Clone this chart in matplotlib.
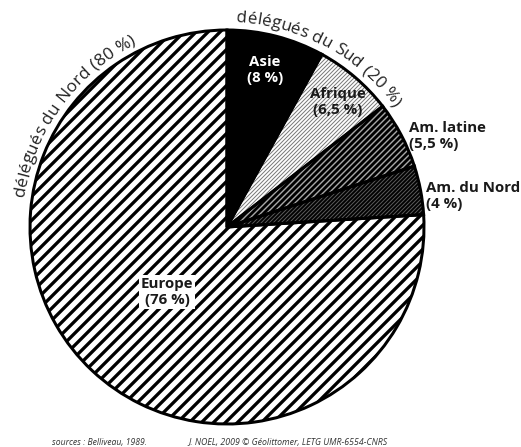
import matplotlib
matplotlib.use('Agg')
import matplotlib.pyplot as plt
import numpy as np
from matplotlib.font_manager import FontProperties, findfont
from matplotlib.ft2font import FT2Font

plt.rcParams['font.family'] = ['Open Sans', 'DejaVu Sans']

# ---- data ----
categories = ['Asie', 'Afrique', 'Am. latine', 'Am. du Nord', 'Europe']
shares = [8, 6.5, 5.5, 4, 76]
share_labels = ['8 %', '6,5 %', '5,5 %', '4 %', '76 %']
group_labels = ['délégués du Nord (80 %)', 'délégués du Sud (20 %)']
source_text = 'sources : Belliveau, 1989.'
credit_text = 'J. NOEL, 2009 © Géolittomer, LETG UMR-6554-CNRS'

# ---- layout ----
W, H, DPI = 521, 447, 72
fig = plt.figure(figsize=(W / DPI, H / DPI), dpi=DPI)
cx, cy, R = 227, 227, 197  # pie centre / radius in pixels (from top-left)
ax = fig.add_axes([(cx - R) / W, (H - cy - R) / H, 2 * R / W, 2 * R / H])


def px2data(px, py):
    return (px - cx) / R, (cy - py) / R


face = ['black', 'white', 'black', 'black', 'white']
hatch_col = ['black', '#7a7a7a', '#a8a8a8', '#5a5a5a', 'black']
hatches = ['', '//////', '////', '//////', '//']
hatch_lw = [1.0, 1.0, 1.4, 1.0, 3.3]

wedges, _ = ax.pie(shares, startangle=90, counterclock=False, radius=1,
                   colors=face, hatch=hatches, wedgeprops=dict(linewidth=0))
for w, hc, hl in zip(wedges, hatch_col, hatch_lw):
    w.set_edgecolor(hc)
    w.set_linewidth(0)
    if hasattr(w, 'set_hatch_linewidth'):
        w.set_hatch_linewidth(hl)
ax.pie(shares, startangle=90, counterclock=False, radius=1,
       wedgeprops=dict(fill=False, edgecolor='black', linewidth=3))
ax.set_xlim(-1, 1)
ax.set_ylim(-1, 1)
ax.set_aspect('equal')
ax.axis('off')

# ---- slice labels ----
lab_fs = 15
specs = [
    ((265, 70), 'center', 'white', None),
    ((338, 102), 'center', '#1a1a1a', None),
    ((409, 136), 'left', '#1a1a1a', None),
    ((426, 196), 'left', '#1a1a1a', None),
    ((167, 292), 'center', '#1a1a1a', dict(facecolor='white', edgecolor='none', pad=2)),
]
for cat, sl, (pos, ha, col, bb) in zip(categories, share_labels, specs):
    x, y = px2data(*pos)
    ax.text(x, y, f'{cat}\n({sl})', ha=ha, va='center', ma=ha,
            fontsize=lab_fs, fontweight='bold', color=col, bbox=bb,
            linespacing=1.15, clip_on=False)


# ---- curved group labels ----
def curved(text, mid_deg, r_px, target_px, color='#222'):
    fp = FontProperties(family='Open Sans')
    font = FT2Font(findfont(fp))
    font.set_size(10, DPI)
    advs = np.array([font.load_char(ord(c)).linearHoriAdvance / 65536 for c in text])
    fs = 10 * target_px / advs.sum()
    advs = advs * fs / 10
    total_ang = advs.sum() / r_px
    start = np.deg2rad(mid_deg) + total_ang / 2
    cum = 0.0
    for c, a in zip(text, advs):
        th = start - (cum + a / 2) / r_px
        cum += a
        x, y = r_px * np.cos(th) / R, r_px * np.sin(th) / R
        ax.text(x, y, c, ha='center', va='baseline', rotation=np.rad2deg(th) - 90,
                rotation_mode='anchor', fontsize=fs, color=color, clip_on=False)


curved(group_labels[0], 144, 205, 198)
curved(group_labels[1], 61.5, 205, 185)

# ---- footer ----
fig.text(52 / W, (H - 443) / H, source_text, ha='left', va='center',
         fontsize=8.6, style='italic', color='#333')
fig.text(188 / W, (H - 443) / H, credit_text, ha='left', va='center',
         fontsize=8.8, style='italic', color='#333')

fig.savefig('out.png', dpi=DPI)
